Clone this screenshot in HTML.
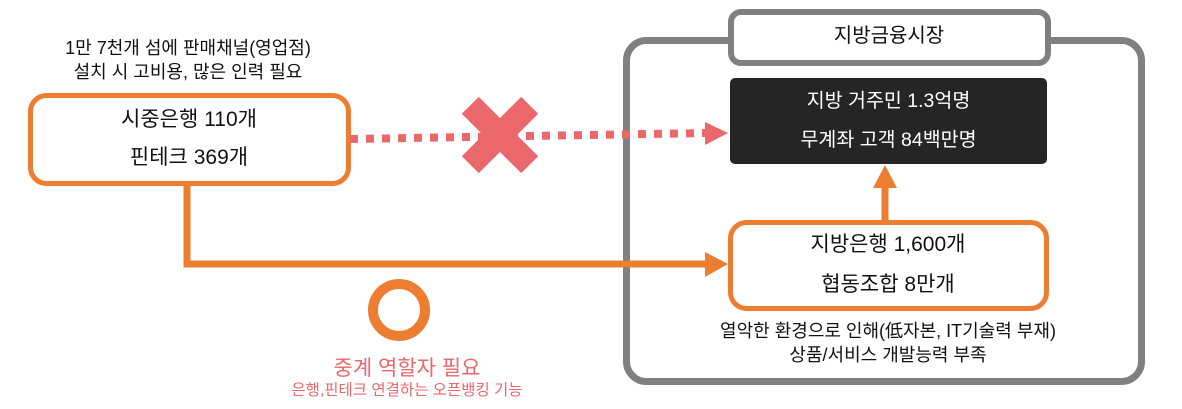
<!DOCTYPE html>
<html><head><meta charset="utf-8"><style>
body{margin:0;width:1182px;height:409px;background:#fff;overflow:hidden;font-family:"Liberation Sans","Noto Sans CJK KR",sans-serif}
svg{position:absolute;left:0;top:0}
.t{position:absolute;text-align:center;white-space:nowrap}
</style></head><body>
<svg width="1182" height="409">
<rect x="626.5" y="40.5" width="515" height="341" rx="20" fill="none" stroke="#808080" stroke-width="7"/>
<rect x="731" y="12" width="317" height="51" rx="10" fill="#fff" stroke="#808080" stroke-width="6"/>
<rect x="730" y="78" width="317" height="86" rx="5" fill="#252525"/>
<rect x="730.5" y="222.5" width="316" height="86" rx="16" fill="#fff" stroke="#ed7d31" stroke-width="5"/>
<rect x="30.5" y="95.5" width="318" height="88" rx="16" fill="#fff" stroke="#ed7d31" stroke-width="5"/>
<line x1="885" y1="220" x2="885" y2="185" stroke="#ed7d31" stroke-width="7"/>
<polygon points="873,188 897,188 885,165" fill="#ed7d31"/>
<polyline points="187,185 187,264 708,264" fill="none" stroke="#ed7d31" stroke-width="7"/>
<polygon points="705,252 728,264 705,277" fill="#ed7d31"/>
<line x1="350" y1="139" x2="708" y2="133" stroke="#ea676b" stroke-width="8" stroke-dasharray="8,8"/>
<polygon points="705,122 728,133 705,145" fill="#ea676b"/>
<g transform="translate(500,135) rotate(45)" fill="#ea676b"><rect x="-42" y="-12" width="84" height="24"/><rect x="-12" y="-42" width="24" height="84"/></g>
<circle cx="399" cy="310" r="26" fill="none" stroke="#ed7d31" stroke-width="10"/>
</svg>
<div class="t" style="left:0;width:376px;top:36px;font-size:18px;line-height:24px;color:#111">1만 7천개 섬에 판매채널(영업점)<br>설치 시 고비용, 많은 인력 필요</div>
<div class="t" style="left:30px;width:318px;top:101px;font-size:21px;line-height:38px;color:#111">시중은행 110개<br>핀테크 369개</div>
<div class="t" style="left:729px;width:320px;top:22px;font-size:20px;line-height:28px;color:#111">지방금융시장</div>
<div class="t" style="left:730px;width:317px;top:82px;font-size:19.5px;line-height:39px;color:#fff">지방 거주민 1.3억명<br>무계좌 고객 84백만명</div>
<div class="t" style="left:730px;width:316px;top:225px;font-size:21px;line-height:40px;color:#111">지방은행 1,600개<br>협동조합 8만개</div>
<div class="t" style="left:680px;width:416px;top:319px;font-size:18px;line-height:24px;color:#111">열악한 환경으로 인해(低자본, IT기술력 부재)<br>상품/서비스 개발능력 부족</div>
<div class="t" style="left:257px;width:300px;top:356px;font-size:21px;line-height:26px;color:#ea676b">중계 역할자 필요</div>
<div class="t" style="left:257px;width:300px;top:381px;font-size:15.5px;line-height:20px;color:#ea676b">은행,핀테크 연결하는 오픈뱅킹 기능</div>
</body></html>
